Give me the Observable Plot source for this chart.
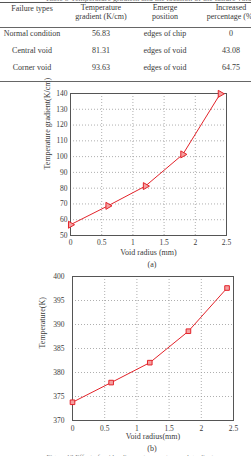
<!DOCTYPE html>
<html><head><meta charset="utf-8">
<script src="https://cdn.jsdelivr.net/npm/d3@7"></script>
<script src="https://cdn.jsdelivr.net/npm/@observablehq/plot@0.6"></script>
<style>
html,body{margin:0;padding:0;background:#fff;}
body{width:251px;height:456px;overflow:hidden;position:relative;font-family:"Liberation Serif","DejaVu Serif",serif;color:#3a3a3a;}
.t{position:absolute;font-size:8px;line-height:9px;text-align:center;white-space:nowrap;transform:translate(-50%,-50%);}
.hl{position:absolute;left:0;width:251px;height:1px;background:#555;}
.chart{position:absolute;left:0;}
</style></head><body>
<script>
// ---- table data ----
const headers = [["Failure types"], ["Temperature", "gradient (K/cm)"], ["Emerge", "position"], ["Increased", "percentage (%)"]];
const failureTypes = ["Normal condition", "Central void", "Corner void"];
const gradients = ["56.83", "81.31", "93.63"];
const emergePositions = ["edges of chip", "edges of void", "edges of void"];
const increasedPct = ["0", "43.08", "64.75"];
const tableTitle = "Table 5 Temperature gradient and the location of the failure voids";

// ---- chart data ----
const voidRadius = [0, 0.6, 1.2, 1.8, 2.4];
const tempGradient = [56.83, 68.8, 81.31, 101.4, 139.8];
const temperature = [373.8, 377.9, 382.05, 388.6, 397.6];
const xTicks = [0, 0.5, 1, 1.5, 2, 2.5];
const yTicksA = [50, 60, 70, 80, 90, 100, 110, 120, 130, 140];
const yTicksB = [370, 375, 380, 385, 390, 395, 400];
const labelA = "(a)", labelB = "(b)";
const figCaption = "Figure 12 Effect of void radius on temperature and gradient";

function div(cls, text, x, y, extra) {
  const d = document.createElement("div");
  d.className = cls;
  if (text != null) d.textContent = text;
  d.style.left = x + "px"; d.style.top = y + "px";
  if (extra) Object.assign(d.style, extra);
  document.body.appendChild(d);
  return d;
}

// table layout
const colX = [32, 101, 165, 231];
const rowY = [33, 50, 67];
div("t", tableTitle, 150, -2, {color: "#777"});
div("hl", null, 0, 2);
div("hl", null, 0, 27, {background: "#666"});
div("hl", null, 0, 81, {background: "#666"});
headers.forEach((h, i) => {
  if (h.length === 1) div("t", h[0], colX[i], 8);
  else { div("t", h[0], colX[i], 7); div("t", h[1], colX[i], 16); }
});
const cols = [failureTypes, gradients, emergePositions, increasedPct];
cols.forEach((c, i) => c.forEach((v, j) => div("t", v, colX[i], rowY[j])));

const red = "#e3232a";
function makeChart(vals, yDomain, yTicks, yLabel, xLabel, symbol, rotate, m, h, lab) {
  const data = voidRadius.map((r, i) => ({r, v: vals[i]}));
  const grid = {stroke: "#9a9a9a", strokeOpacity: 1, strokeWidth: 0.8, strokeDasharray: "1,2"};
  return Plot.plot({
    width: 251, height: h,
    marginTop: m.top, marginRight: m.right, marginBottom: m.bottom, marginLeft: m.left,
    style: {fontFamily: "Liberation Serif, serif", fontSize: "7.5px", color: "#3a3a3a", background: "transparent", overflow: "visible"},
    x: {domain: [0, 2.5]},
    y: {domain: yDomain},
    marks: [
      Plot.gridX(xTicks.slice(1, -1), grid),
      Plot.gridY(yTicks.slice(1, -1), grid),
      Plot.frame({stroke: "#555", strokeWidth: 1}),
      Plot.axisX(xTicks, {tickSize: 0, tickPadding: lab.xPad, tickFormat: d => String(d), label: null}),
      Plot.axisY(yTicks, {tickSize: 0, tickPadding: lab.yPad, tickFormat: d => String(d), label: null}),
      Plot.text([xLabel], {frameAnchor: "bottom", dy: lab.xdy, text: d => d, fontSize: 8, lineAnchor: "middle"}),
      Plot.text([yLabel], {frameAnchor: "left", dx: lab.ydx, dy: lab.ydy, rotate: -90, text: d => d, fontSize: 8, lineAnchor: "middle"}),
      Plot.line(data, {x: "r", y: "v", stroke: red, strokeWidth: 1}),
      Plot.dot(data, {x: "r", y: "v", symbol, r: 2.6, stroke: red, strokeWidth: 1, fill: "#f4a0a0", rotate})
    ]
  });
}

const a = makeChart(tempGradient, [50, 140], yTicksA, "Temperature gradient(K/cm)", "Void radius (mm)", "triangle", 90,
  {top: 8, right: 25, bottom: 35, left: 70}, 185, {xdy: 17, ydx: -23, ydy: 5, xPad: 4, yPad: 3});
a.classList.add("chart"); a.style.top = "85px";
document.body.appendChild(a);

const b = makeChart(temperature, [370, 400], yTicksB, "Temperature(K)", "Void radius(mm)", "square", 0,
  {top: 6, right: 18, bottom: 20, left: 72}, 170, {xdy: 16, ydx: -30, ydy: 0, xPad: 5, yPad: 8});
b.classList.add("chart"); b.style.top = "270px";
document.body.appendChild(b);

div("t", labelA, 152, 264);
div("t", labelB, 152, 448);
div("t", figCaption, 130, 457, {color: "#777", fontSize: "7px"});
</script>
</body></html>
